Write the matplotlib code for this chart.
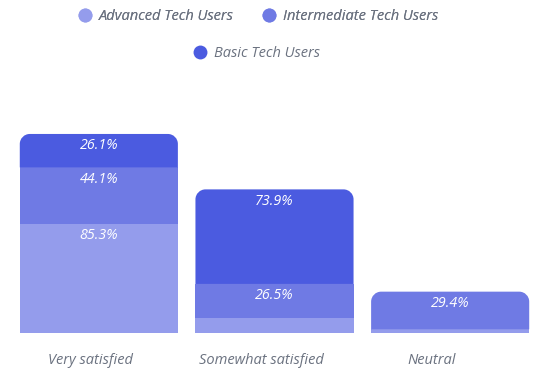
import matplotlib
matplotlib.use("Agg")
import matplotlib.pyplot as plt
from matplotlib.path import Path
from matplotlib.patches import PathPatch
from matplotlib.lines import Line2D
import numpy as np

categories = ["Very satisfied", "Somewhat satisfied", "Neutral"]
series_names = ["Advanced Tech Users", "Intermediate Tech Users", "Basic Tech Users"]
advanced = [85.3, 11.8, 2.9]
intermediate = [44.1, 26.5, 29.4]
basic = [26.1, 73.9, 0.0]
colors = ["#949CEC", "#6F7AE4", "#4B5BE0"]

FONT = "Open Sans"
plt.rcParams['font.family'] = [FONT, 'DejaVu Sans']

W, H = 550, 373
fig = plt.figure(figsize=(W/100, H/100), dpi=100)
base_px = 333
top_px = 90
ax = fig.add_axes([11/W, (H-base_px)/H, 527/W, (base_px-top_px)/H])
px_per_unit = 1.28
ymax = (base_px-top_px)/px_per_unit
ax.set_xlim(-0.5, 2.5)
ax.set_ylim(0, ymax)
for s in ax.spines.values():
    s.set_visible(False)
ax.set_yticks([])
x = np.arange(len(categories))
tick_offsets = np.array([-0.048, -0.077, -0.108])
ax.set_xticks(x + tick_offsets)
ax.set_xticklabels(categories, fontstyle='italic', fontsize=10.5, color="#6B7280")
ax.tick_params(axis='x', length=0, pad=14.5)

width = 0.9
series = [advanced, intermediate, basic]
data_per_px_x = 3.0/527
data_per_px_y = 1/px_per_unit
r_px = 10

def rounded_top(x0, y0, w, h):
    rx = min(r_px*data_per_px_x, w/2)
    ry = min(r_px*data_per_px_y, h)
    k = 0.5523
    verts = [(x0, y0), (x0+w, y0), (x0+w, y0+h-ry),
             (x0+w, y0+h-ry+k*ry), (x0+w-rx+k*rx, y0+h), (x0+w-rx, y0+h),
             (x0+rx, y0+h),
             (x0+rx-k*rx, y0+h), (x0, y0+h-ry+k*ry), (x0, y0+h-ry),
             (x0, y0)]
    codes = [Path.MOVETO, Path.LINETO, Path.LINETO,
             Path.CURVE4, Path.CURVE4, Path.CURVE4,
             Path.LINETO,
             Path.CURVE4, Path.CURVE4, Path.CURVE4,
             Path.CLOSEPOLY]
    return Path(verts, codes)

for i in range(len(categories)):
    bottom = 0.0
    vals = [s[i] for s in series]
    top_idx = max(j for j, v in enumerate(vals) if v > 0)
    for j, v in enumerate(vals):
        if v <= 0:
            continue
        if j == top_idx:
            p = rounded_top(x[i]-width/2, bottom, width, v)
            ax.add_patch(PathPatch(p, facecolor=colors[j], edgecolor='none'))
        else:
            ax.bar(x[i], v, width=width, bottom=bottom, color=colors[j], linewidth=0)
        if v >= 20:
            ax.text(x[i], bottom + v - 12*data_per_px_y, f"{v:.1f}%", ha='center', va='center',
                    color='white', fontstyle='italic', fontsize=10.3)
        bottom += v

handles = [Line2D([], [], marker='o', linestyle='none', markersize=10,
                  markerfacecolor=c, markeredgecolor='none') for c in colors]
common = dict(loc='center', frameon=False, handlelength=1.0, handletextpad=0.45,
              borderpad=0, prop={'style': 'italic', 'size': 10.5})
leg1 = fig.legend(handles[:2], series_names[:2], bbox_to_anchor=(258/W, 1-16.5/H),
                  ncol=2, columnspacing=1.9, **common)
leg2 = fig.legend(handles[2:], series_names[2:], bbox_to_anchor=(256/W, 1-53.5/H),
                  ncol=1, **common)
fig.add_artist(leg1)
for lg in (leg1, leg2):
    for t in lg.get_texts():
        t.set_color("#6B7280")

fig.savefig("out.png", dpi=100)
